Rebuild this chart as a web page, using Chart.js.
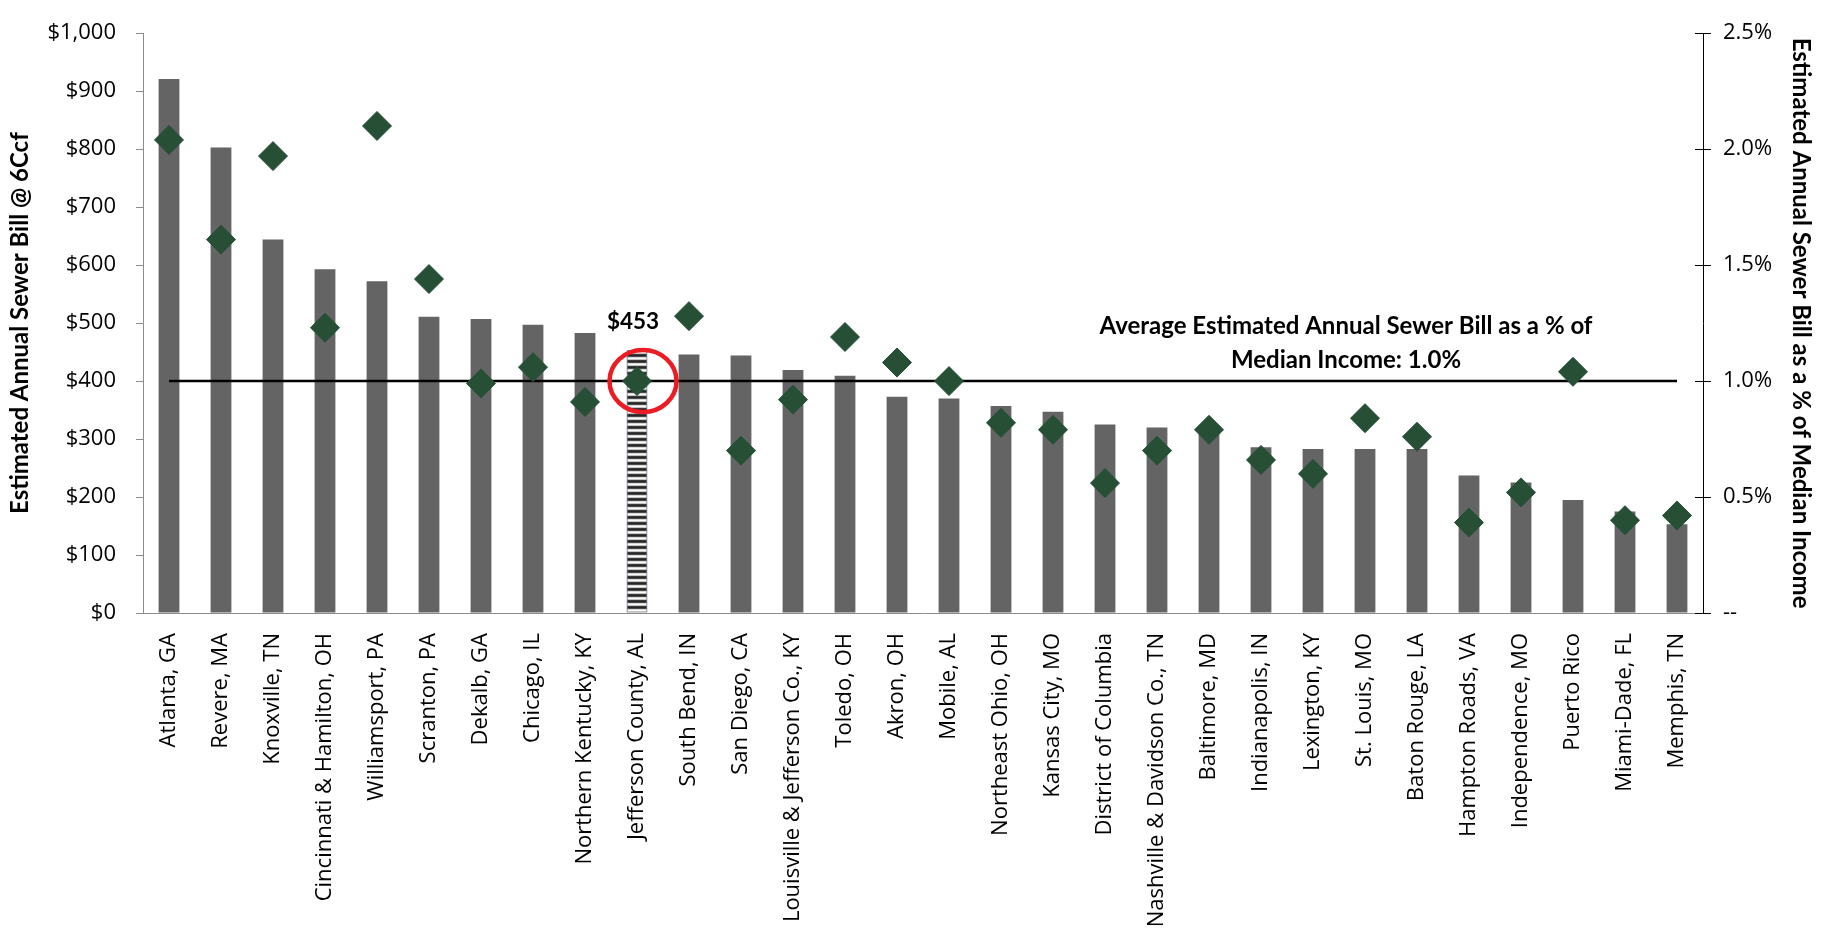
<!DOCTYPE html>
<html lang="en">
<head>
    <meta charset="UTF-8">
    <title>Estimated Annual Sewer Bill</title>
    <script src="https://cdn.jsdelivr.net/npm/chart.js"></script>
    <style>
        body {
            margin: 0;
            background: #ffffff;
        }
        .chart-box {
            width: 1824px;
            height: 936px;
        }
    </style>
</head>
<body>
    <div class="chart-box">
        <canvas id="sewerChart"></canvas>
    </div>

    <script>
        // Utilities, sorted by annual bill
        const cities = [
            'Atlanta, GA', 'Revere, MA', 'Knoxville, TN', 'Cincinnati & Hamilton, OH',
            'Williamsport, PA', 'Scranton, PA', 'Dekalb, GA', 'Chicago, IL',
            'Northern Kentucky, KY', 'Jefferson County, AL', 'South Bend, IN', 'San Diego, CA',
            'Louisville & Jefferson Co., KY', 'Toledo, OH', 'Akron, OH', 'Mobile, AL',
            'Northeast Ohio, OH', 'Kansas City, MO', 'District of Columbia',
            'Nashville & Davidson Co., TN', 'Baltimore, MD', 'Indianapolis, IN', 'Lexington, KY',
            'St. Louis, MO', 'Baton Rouge, LA', 'Hampton Roads, VA', 'Independence, MO',
            'Puerto Rico', 'Miami-Dade, FL', 'Memphis, TN'
        ];

        // Estimated annual sewer bill @ 6Ccf ($)
        const annualBill = [
            921, 803, 644, 593, 572, 511, 507, 497, 483, 453,
            446, 444, 419, 409, 373, 370, 357, 347, 325, 320,
            310, 286, 283, 283, 283, 237, 225, 195, 175, 153
        ];

        // Bill as a % of median income
        const pctOfIncome = [
            2.04, 1.61, 1.97, 1.23, 2.10, 1.44, 0.99, 1.06, 0.91, 1.00,
            1.28, 0.70, 0.92, 1.19, 1.08, 1.00, 0.82, 0.79, 0.56, 0.70,
            0.79, 0.66, 0.60, 0.84, 0.76, 0.39, 0.52, 1.04, 0.40, 0.42
        ];

        const avgPct = 1.0;
        const highlight = 'Jefferson County, AL';
        const billTicks = [0, 100, 200, 300, 400, 500, 600, 700, 800, 900, 1000];
        const pctTicks = [0, 0.5, 1.0, 1.5, 2.0, 2.5];

        const hi = cities.indexOf(highlight);

        // horizontal stripe fill for the highlighted bar
        function stripePattern() {
            const c = document.createElement('canvas');
            c.width = 4;
            c.height = 6;
            const g = c.getContext('2d');
            const rows = ['#3a3a3a', '#262626', '#4a4a4a', '#d8d8d8', '#fbfbfb', '#c4c4c4'];
            rows.forEach((col, i) => {
                g.fillStyle = col;
                g.fillRect(0, i, 4, 1);
            });
            return g.createPattern(c, 'repeat');
        }

        const ctx = document.getElementById('sewerChart').getContext('2d');
        const stripes = stripePattern();

        const barColors = cities.map((c, i) => i === hi ? stripes : '#646464');
        const barBorders = cities.map((c, i) => i === hi ? '#1f3550' : '#646464');
        const barBorderWidths = cities.map((c, i) => i === hi ? 1 : 0);

        const boldFont = 'Lato';
        const boldSize = 24;
        const tickFont = { family: 'Open Sans', size: 22 };

        // extra drawing: inner ticks on the right axis, callout and average label
        const extras = {
            id: 'extras',
            afterDatasetsDraw(chart) {
                const g = chart.ctx;
                const x = chart.scales.x;
                const y = chart.scales.y;
                const y1 = chart.scales.y1;
                g.save();

                g.strokeStyle = '#000';
                g.lineWidth = 1;
                y1.ticks.forEach(t => {
                    const py = Math.round(y1.getPixelForValue(t.value)) + 0.5;
                    g.beginPath();
                    g.moveTo(y1.left - 8, py);
                    g.lineTo(y1.left, py);
                    g.stroke();
                });

                // red ring round the highlighted utility
                const cx = x.getPixelForValue(hi) + 6;
                const cy = y1.getPixelForValue(pctOfIncome[hi]);
                g.strokeStyle = '#ec1c24';
                g.lineWidth = 4.5;
                g.beginPath();
                g.ellipse(cx, cy, 33.5, 31, 0, 0, Math.PI * 2);
                g.stroke();

                g.fillStyle = '#000';
                g.textAlign = 'center';
                g.textBaseline = 'middle';
                g.font = 'bold 22.5px ' + boldFont;
                g.fillText('$' + annualBill[hi], x.getPixelForValue(hi) - 4, y.getPixelForValue(annualBill[hi]) - 29);

                // average label above the average line
                const avgY = y1.getPixelForValue(avgPct);
                const lx = x.getPixelForValue(22) + 33;
                g.font = 'bold ' + boldSize + 'px ' + boldFont;
                g.fillText('Average Estimated Annual Sewer Bill as a % of', lx, avgY - 55);
                g.fillText('Median Income: ' + avgPct.toFixed(1) + '%', lx, avgY - 21);

                g.restore();
            }
        };

        new Chart(ctx, {
            type: 'bar',
            data: {
                labels: cities,
                datasets: [
                    {
                        type: 'line',
                        label: '% of Median Income',
                        data: pctOfIncome,
                        yAxisID: 'y1',
                        showLine: false,
                        pointStyle: 'rectRot',
                        pointRadius: 14.5,
                        pointHoverRadius: 14.5,
                        backgroundColor: '#264f36',
                        borderColor: '#264f36',
                        borderWidth: 1,
                        order: 0
                    },
                    {
                        type: 'line',
                        label: 'Average',
                        data: cities.map(() => avgPct),
                        yAxisID: 'y1',
                        borderColor: '#000000',
                        borderWidth: 2.5,
                        pointRadius: 0,
                        fill: false,
                        order: 1
                    },
                    {
                        label: 'Annual Sewer Bill',
                        data: annualBill,
                        yAxisID: 'y',
                        backgroundColor: barColors,
                        borderColor: barBorders,
                        borderWidth: barBorderWidths,
                        barPercentage: 0.4,
                        categoryPercentage: 1.0,
                        order: 2
                    }
                ]
            },
            options: {
                responsive: true,
                maintainAspectRatio: false,
                animation: false,
                layout: {
                    padding: { top: 18, left: 0, right: 0, bottom: 0 }
                },
                plugins: {
                    legend: { display: false },
                    tooltip: { enabled: false }
                },
                scales: {
                    x: {
                        offset: true,
                        afterFit(s) { s.height = 323; },
                        grid: { display: false, drawTicks: false },
                        border: { color: '#8c8c8c', width: 1 },
                        ticks: {
                            autoSkip: false,
                            minRotation: 90,
                            maxRotation: 90,
                            padding: 20,
                            color: '#000',
                            font: tickFont
                        }
                    },
                    y: {
                        position: 'left',
                        min: 0,
                        max: 1000,
                        afterFit(s) { s.width = 143; },
                        afterBuildTicks(s) { s.ticks = billTicks.map(v => ({ value: v })); },
                        grid: { drawOnChartArea: false, tickLength: 7, color: '#8c8c8c' },
                        border: { color: '#8c8c8c', width: 1 },
                        ticks: {
                            padding: 20,
                            color: '#000',
                            font: tickFont,
                            callback: v => '$' + v.toLocaleString('en-US')
                        },
                        title: {
                            display: true,
                            text: 'Estimated Annual Sewer Bill @ 6Ccf',
                            color: '#000',
                            font: { family: boldFont, size: boldSize, weight: 'bold' },
                            padding: { top: 5.5, bottom: 0 }
                        }
                    },
                    y1: {
                        position: 'right',
                        min: 0,
                        max: 2.5,
                        afterFit(s) { s.width = 121; },
                        afterBuildTicks(s) { s.ticks = pctTicks.map(v => ({ value: v })); },
                        grid: { drawOnChartArea: false, tickLength: 8, color: '#000' },
                        border: { color: '#000', width: 1 },
                        ticks: {
                            padding: 12,
                            color: '#000',
                            font: tickFont,
                            callback: v => v === 0 ? '--' : v.toFixed(1) + '%'
                        },
                        title: {
                            display: true,
                            text: 'Estimated Annual Sewer Bill as a % of Median Income',
                            color: '#000',
                            font: { family: boldFont, size: boldSize, weight: 'bold' },
                            padding: { top: 8.5, bottom: 0 }
                        }
                    }
                }
            },
            plugins: [extras]
        });
    </script>
</body>
</html>
